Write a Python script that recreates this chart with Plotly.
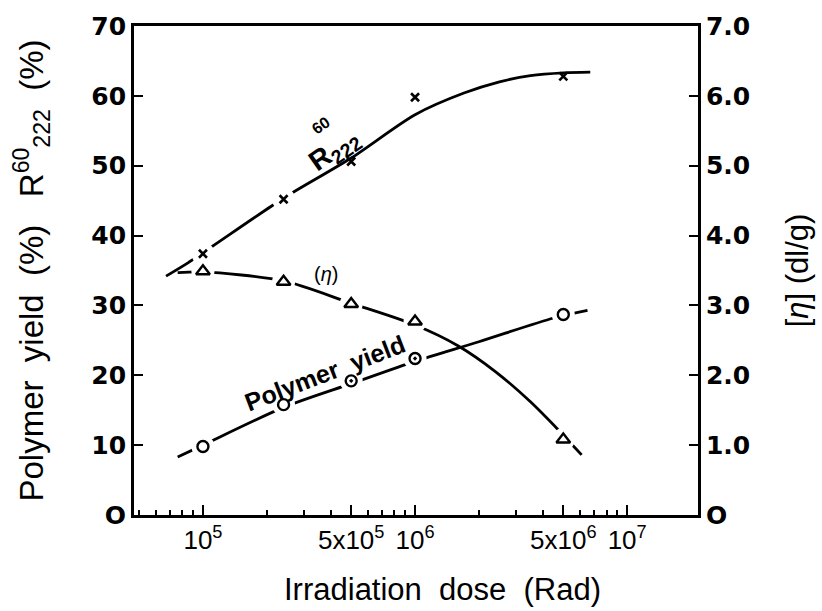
import plotly.graph_objects as go

# ---------------- data ----------------
dose = [1e5, 2.4e5, 5e5, 1e6, 5e6]                 # Rad
r60_222 = [37.4, 45.2, 50.6, 59.8, 62.8]           # %  (x markers)
polymer_yield = [9.8, 15.8, 19.2, 22.4, 28.7]      # %  (circles)
intrinsic_visc = [3.49, 3.34, 3.02, 2.77, 1.08]    # dl/g (triangles)

r_curve_x = [6.7e4, 8.5e4, 1.1e5, 2.1e5, 2.7e5, 5e5, 1e6, 1.7e6, 2.5e6, 3.5e6, 5e6, 6.7e6]
r_curve_y = [34.2, 36.1, 38.4, 44.2, 46.3, 51.1, 57.3, 60.4, 62.0, 62.9, 63.3, 63.4]

eta_curve_x = [7.6e4, 1e5, 2.4e5, 5e5, 1e6, 1.6e6, 2.4e6, 3.5e6, 4.8e6, 6.1e6]
eta_curve_y = [3.47, 3.48, 3.35, 3.03, 2.72, 2.42, 2.05, 1.62, 1.20, 0.86]

yield_curve_x = [7.6e4, 1e5, 2.4e5, 5e5, 1e6, 2e6, 4.5e6, 6.5e6]
yield_curve_y = [8.3, 10.0, 15.4, 18.8, 22.0, 24.8, 28.2, 29.3]

x_tickvals = [1e5, 5e5, 1e6, 5e6, 1e7]
x_ticktext = ["10<sup>5</sup>", "5x10<sup>5</sup>", "10<sup>6</sup>", "5x10<sup>6</sup>", "10<sup>7</sup>"]
x_minor = [5e4, 6e4, 7e4, 8e4, 9e4, 2e5, 3e5, 4e5, 6e5, 7e5, 8e5, 9e5,
           2e6, 3e6, 4e6, 6e6, 7e6, 8e6, 9e6]
y_tickvals = [0, 10, 20, 30, 40, 50, 60, 70]
y_ticktext = ["O", "10", "20", "30", "40", "50", "60", "70"]
y2_tickvals = [0, 1, 2, 3, 4, 5, 6, 7]
y2_ticktext = ["O", "1.0", "2.0", "3.0", "4.0", "5.0", "6.0", "7.0"]

# ---------------- figure ----------------
FONT = "Liberation Sans"
TICKFONT = "DejaVu Sans"
LW = 2.8
fig = go.Figure()

line = dict(color="black", width=LW, shape="spline", smoothing=0.8)
fig.add_trace(go.Scatter(x=r_curve_x, y=r_curve_y, mode="lines", line=line, hoverinfo="skip"))
fig.add_trace(go.Scatter(x=yield_curve_x, y=yield_curve_y, mode="lines", line=line, hoverinfo="skip"))
fig.add_trace(go.Scatter(x=eta_curve_x, y=eta_curve_y, mode="lines", line=line, yaxis="y2", hoverinfo="skip"))

# white masks to break the lines around the symbols
mask = dict(symbol="circle", size=23, color="white", line=dict(width=0))
fig.add_trace(go.Scatter(x=dose[:2], y=r60_222[:2], mode="markers", marker=mask, hoverinfo="skip"))
fig.add_trace(go.Scatter(x=dose, y=polymer_yield, mode="markers", marker=mask, hoverinfo="skip"))
fig.add_trace(go.Scatter(x=dose, y=intrinsic_visc, mode="markers", marker=mask, yaxis="y2", hoverinfo="skip"))

fig.add_trace(go.Scatter(x=dose, y=r60_222, mode="markers",
                         marker=dict(symbol="x-thin", size=8, line=dict(color="black", width=2.6))))
fig.add_trace(go.Scatter(x=dose, y=polymer_yield, mode="markers",
                         marker=dict(symbol=["circle-open", "circle-open", "circle-open-dot",
                                             "circle-open-dot", "circle-open"],
                                     size=11, color="black", line=dict(color="black", width=2.4))))
fig.add_trace(go.Scatter(x=dose, y=intrinsic_visc, mode="markers", yaxis="y2",
                         marker=dict(symbol="triangle-up-open", size=12, color="black",
                                     line=dict(color="black", width=2.4))))

L, R, T, B = 134, 699, 24, 515
W, H = 822, 611

def px(xp, yp):
    return (xp - L) / (R - L), (B - yp) / (B - T)

annos = []
ax, ay = px(335, 149)
annos.append(dict(x=ax, y=ay, text="<b>R<sub>222</sub></b>", textangle=-35,
                  font=dict(size=28, family=FONT, color="black")))
ax, ay = px(321, 124)
annos.append(dict(x=ax, y=ay, text="<b>60</b>", textangle=-35, font=dict(size=16, family=FONT, color="black")))
ax, ay = px(326, 273)
annos.append(dict(x=ax, y=ay, text="(<i>η</i>)", textangle=0, font=dict(size=20, family=FONT, color="black")))
ax, ay = px(325, 372)
annos.append(dict(x=ax, y=ay, text="<b>Polymer  yield</b>", textangle=-21,
                  font=dict(size=25, family=FONT, color="black")))
ax, ay = px(443, 590)
annos.append(dict(x=ax, y=ay, text="Irradiation  dose  (Rad)", textangle=0,
                  font=dict(size=31, family=FONT, color="black")))
for a in annos:
    a.update(xref="paper", yref="paper", showarrow=False, xanchor="center", yanchor="middle")

fig.update_layout(
    width=W, height=H,
    margin=dict(l=L, r=W - R, t=T, b=H - B),
    paper_bgcolor="white", plot_bgcolor="white",
    showlegend=False,
    font=dict(family=FONT, color="black"),
    annotations=annos,
    xaxis=dict(type="log", range=[4.675, 7.334],
               tickmode="array", tickvals=x_tickvals, ticktext=x_ticktext,
               ticks="inside", ticklen=10, tickwidth=2, tickcolor="black",
               minor=dict(tickmode="array", tickvals=x_minor, ticks="inside", ticklen=5,
                          tickwidth=2, tickcolor="black", showgrid=False),
               showline=True, linewidth=LW, linecolor="black", mirror=True,
               showgrid=False, zeroline=False,
               tickfont=dict(size=26, family=FONT)),
    yaxis=dict(range=[0, 70], tickmode="array", tickvals=y_tickvals, ticktext=y_ticktext,
               ticks="inside", ticklen=9, tickwidth=2, tickcolor="black",
               showline=True, linewidth=LW, linecolor="black",
               showgrid=False, zeroline=False,
               tickfont=dict(size=25, family=TICKFONT, weight="bold"),
               title=dict(text="Polymer  yield  (%)   R<sup>60</sup><sub>222</sub>  (%)",
                          font=dict(size=33, family=FONT), standoff=38)),
    yaxis2=dict(range=[0, 7], overlaying="y", side="right",
                tickmode="array", tickvals=y2_tickvals, ticktext=y2_ticktext,
                ticks="inside", ticklen=9, tickwidth=2, tickcolor="black",
                showline=True, linewidth=LW, linecolor="black",
                showgrid=False, zeroline=False,
                tickfont=dict(size=25, family=TICKFONT, weight="bold"),
                title=dict(text="[<i>η</i>] (dl/g)", font=dict(size=31, family=FONT), standoff=38)),
)

fig.write_html("out.html")
